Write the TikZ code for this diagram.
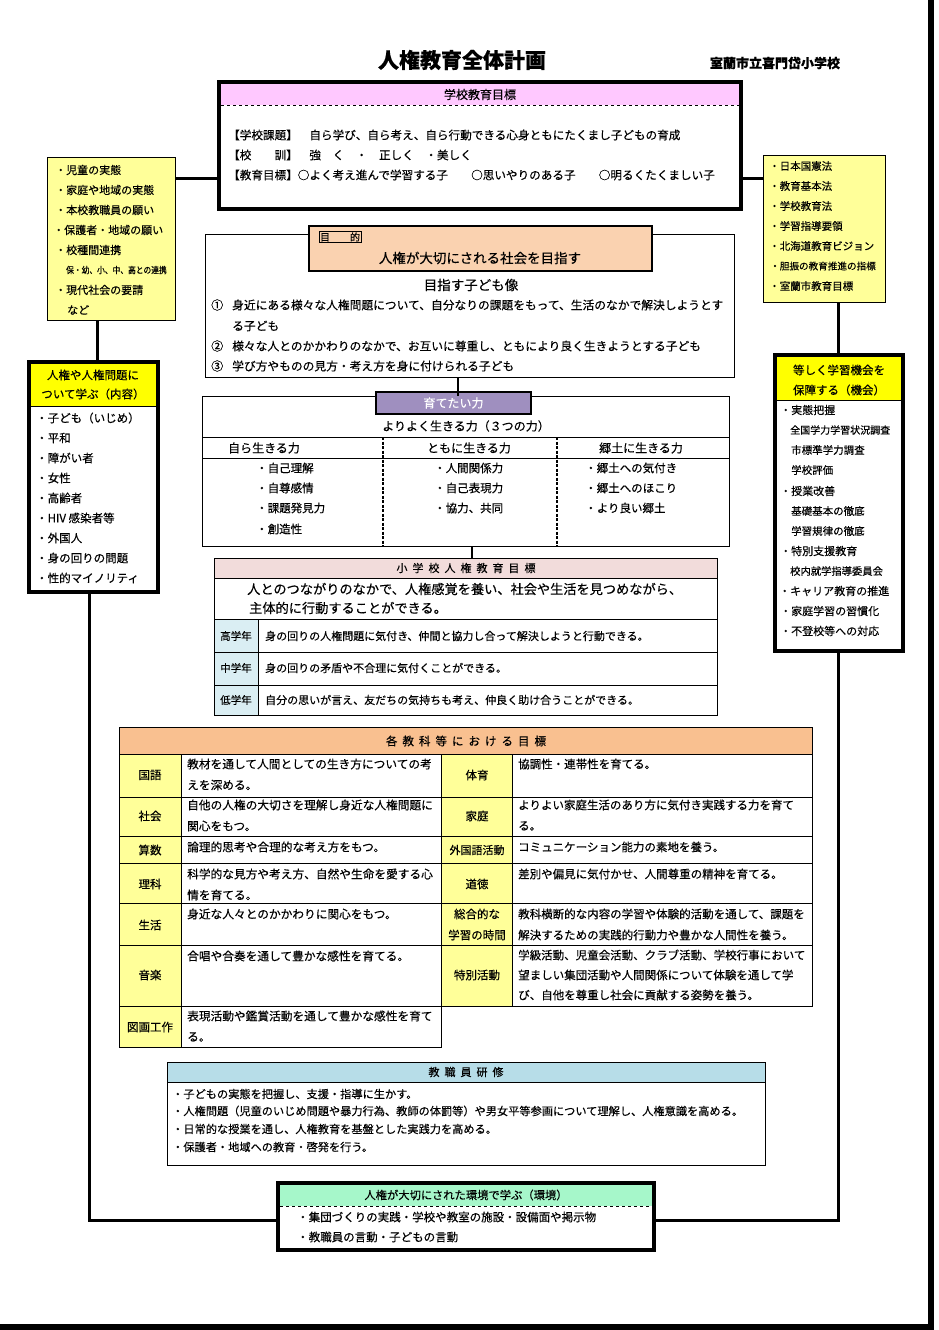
\documentclass[tikz,border=0pt]{standalone}
\usepackage{fontspec}
\setmainfont{Noto Sans CJK JP}[FakeBold=0.3]
\newcommand\fs[1]{\fontsize{#1}{#1}\selectfont}
\newcommand\gapx{\hspace{5pt}}
\definecolor{pinkH}{HTML}{FFC8FF}
\definecolor{yelL}{HTML}{FFFF99}
\definecolor{yelH}{HTML}{FFFF00}
\definecolor{orgP}{HTML}{FAD2B0}
\definecolor{purH}{HTML}{9F8FBF}
\definecolor{pinkT}{HTML}{F2DCDB}
\definecolor{bluL}{HTML}{DAEEF3}
\definecolor{orgT}{HTML}{F9C090}
\definecolor{bluS}{HTML}{B7DDE8}
\definecolor{grnE}{HTML}{A6F7CA}
\tikzset{
  frame/.style={draw, line width=1pt, inner sep=0pt, outer sep=0pt, anchor=north west},
  heavy/.style={draw, line width=4pt, inner sep=0pt, outer sep=0pt, anchor=north west},
  band/.style={inner sep=0pt, outer sep=0pt, anchor=north west},
  conn/.style={line width=3pt},
  thinconn/.style={line width=2pt},
  lt/.style={anchor=west, inner sep=0pt},
  ct/.style={anchor=center, inner sep=0pt},
  colsep/.style={line width=1.4pt, dash pattern=on 3pt off 1.5pt},
}
\begin{document}
\begin{tikzpicture}[x=1pt,y=-1pt]
\useasboundingbox (0,0) rectangle (939,1330);
\fill[white] (0,0) rectangle (939,1330);
% page edge
\fill[black] (928,0) rectangle (934,1330);
\fill[black] (0,1324) rectangle (934,1330);

% helper coordinates for connectors
\coordinate (y178) at (0,178);
\coordinate (x97) at (97,0);
\coordinate (x89) at (89,0);
\coordinate (x838) at (838,0);
\coordinate (x458) at (458,0);
\coordinate (x472) at (472,0);
\coordinate (y1220) at (0,1220);

% title
\node[ct, font=\fs{21}\bfseries] (title) at (462,60) {人権教育全体計画};
\node[ct, font=\fs{13}\bfseries] (school) at (775,63) {室蘭市立喜門岱小学校};

% school goals
\node[heavy, fill=white, minimum width=522pt, minimum height=127pt] (goal) at (219,82) {};
\node[band, fill=pinkH, minimum width=518pt, minimum height=21pt, font=\fs{12}] (goalh) at (221,84) {学校教育目標};
\draw[dashed, line width=0.8pt] (goalh.south west) -- (goalh.south east);
\node[lt, font=\fs{11.6}] (g1) at (228,135) {【学校課題】　自ら学び、自ら考え、自ら行動できる心身ともにたくまし子どもの育成};
\node[lt, font=\fs{11.6}] (g2) at (228,155) {【校　　訓】　強　く　・　正しく　・美しく};
\node[lt, font=\fs{11.6}] (g3) at (228,175) {【教育目標】○よく考え進んで学習する子　　○思いやりのある子　　○明るくたくましい子};

% left factors
\node[frame, fill=yelL, minimum width=128pt, minimum height=163pt] (lfac) at (47,157) {};
\node[lt, font=\fs{11}] (lf1) at (55,170) {・児童の実態};
\node[lt, font=\fs{11}] (lf2) at (55,190) {・家庭や地域の実態};
\node[lt, font=\fs{11}] (lf3) at (55,210) {・本校教職員の願い};
\node[lt, font=\fs{11}] (lf4) at (53,230) {・保護者・地域の願い};
\node[lt, font=\fs{11}] (lf5) at (55,250) {・校種間連携};
\node[lt, font=\fs{9}, xscale=0.86] (lf6) at (66,270) {保・幼、小、中、高との連携};
\node[lt, font=\fs{11}] (lf7) at (55,290) {・現代社会の要請};
\node[lt, font=\fs{11}] (lf8) at (67,310) {など};

% right factors
\node[frame, fill=yelL, minimum width=122pt, minimum height=147pt] (rfac) at (763,155) {};
\node[lt, font=\fs{10.5}] (rf1) at (769,166) {・日本国憲法};
\node[lt, font=\fs{10.5}] (rf2) at (769,186) {・教育基本法};
\node[lt, font=\fs{10.5}] (rf3) at (769,206) {・学校教育法};
\node[lt, font=\fs{10.5}] (rf4) at (769,226) {・学習指導要領};
\node[lt, font=\fs{10.5}] (rf5) at (769,246) {・北海道教育ビジョン};
\node[lt, font=\fs{9.6}] (rf6) at (770,266) {・胆振の教育推進の指標};
\node[lt, font=\fs{10.5}] (rf7) at (769,286) {・室蘭市教育目標};

% left content box
\node[heavy, fill=white, minimum width=129pt, minimum height=230pt] (lcont) at (29,362) {};
\node[band, fill=yelH, minimum width=125pt, minimum height=42pt] (lconth) at (31,364) {};
\draw[line width=0.8pt] (lconth.south west) -- (lconth.south east);
\node[ct, font=\fs{11.5}] (lch1) at (93,375) {人権や人権問題に};
\node[ct, font=\fs{11.5}] (lch2) at (93,394) {ついて学ぶ（内容）};
\node[lt, font=\fs{11.5}] (lc1) at (36,418) {・子ども（いじめ）};
\node[lt, font=\fs{11.5}] (lc2) at (36,438) {・平和};
\node[lt, font=\fs{11.5}] (lc3) at (36,458) {・障がい者};
\node[lt, font=\fs{11.5}] (lc4) at (36,478) {・女性};
\node[lt, font=\fs{11.5}] (lc5) at (36,498) {・高齢者};
\node[lt, font=\fs{11.5}] (lc6) at (36,518) {・HIV 感染者等};
\node[lt, font=\fs{11.5}] (lc7) at (36,538) {・外国人};
\node[lt, font=\fs{11.5}] (lc8) at (36,558) {・身の回りの問題};
\node[lt, font=\fs{11.5}] (lc9) at (36,578) {・性的マイノリティ};

% right opportunity box
\node[heavy, fill=white, minimum width=128pt, minimum height=296pt] (ropp) at (775,355) {};
\node[band, fill=yelH, minimum width=124pt, minimum height=43pt] (ropph) at (777,357) {};
\draw[line width=0.8pt] (ropph.south west) -- (ropph.south east);
\node[ct, font=\fs{11.5}] (roh1) at (839,370) {等しく学習機会を};
\node[ct, font=\fs{11.5}] (roh2) at (839,390) {保障する（機会）};
\node[lt, font=\fs{11}] (ro1) at (780,410) {・実態把握};
\node[lt, font=\fs{10}] (ro2) at (790,430) {全国学力学習状況調査};
\node[lt, font=\fs{10.5}] (ro3) at (791,450) {市標準学力調査};
\node[lt, font=\fs{10.5}] (ro4) at (791,470) {学校評価};
\node[lt, font=\fs{11}] (ro5) at (780,491) {・授業改善};
\node[lt, font=\fs{10.5}] (ro6) at (791,511) {基礎基本の徹底};
\node[lt, font=\fs{10.5}] (ro7) at (791,531) {学習規律の徹底};
\node[lt, font=\fs{11}] (ro8) at (780,551) {・特別支援教育};
\node[lt, font=\fs{10.3}] (ro9) at (790,571) {校内就学指導委員会};
\node[lt, font=\fs{11}] (ro10) at (779,591) {・キャリア教育の推進};
\node[lt, font=\fs{11}] (ro11) at (780,611) {・家庭学習の習慣化};
\node[lt, font=\fs{11}] (ro12) at (780,631) {・不登校等への対応};

% purpose box
\node[frame, minimum width=529pt, minimum height=143pt] (pbox) at (205,234) {};
\node[frame, line width=1.2pt, fill=orgP, minimum width=343pt, minimum height=45pt] (ph) at (309,226) {};
\node[draw, line width=0.8pt, ct, inner sep=1pt, font=\fs{10}] (plabel) at (340,237) {目\hspace{20pt}的};
\node[ct, font=\fs{13.5}] (ptext) at (480,258) {人権が大切にされる社会を目指す};
\node[ct, font=\fs{13.5}] (pimg) at (471,285) {目指す子ども像};
\node[lt, font=\fs{12}] (pn1) at (211,305) {①};
\node[lt, font=\fs{11.75}] (pi1) at (232,305) {身近にある様々な人権問題について、自分なりの課題をもって、生活のなかで解決しようとす};
\node[lt, font=\fs{11.75}] (pi1b) at (232,326) {る子ども};
\node[lt, font=\fs{12}] (pn2) at (211,346) {②};
\node[lt, font=\fs{11.75}] (pi2) at (232,346) {様々な人とのかかわりのなかで、お互いに尊重し、ともにより良く生きようとする子ども};
\node[lt, font=\fs{12}] (pn3) at (211,366) {③};
\node[lt, font=\fs{11.75}] (pi3) at (232,366) {学び方やものの見方・考え方を身に付けられる子ども};

% ability box
\node[frame, minimum width=527pt, minimum height=150pt] (fbox) at (202,396) {};
\node[frame, line width=1.2pt, fill=purH, minimum width=155pt, minimum height=22pt] (fh) at (376,392) {};
\node[ct, font=\fs{12}, text=white] (fht) at (fh.center) {育てたい力};
\node[ct, font=\fs{12}] (fsub) at (466,426) {よりよく生きる力（３つの力）};
\draw[line width=1pt] (202,437) -- (729,437);
\draw[line width=1pt] (202,458) -- (729,458);
\draw[colsep] (383,437) -- (383,546);
\draw[colsep] (557,437) -- (557,546);
\node[ct, font=\fs{12}] (fc1) at (264,448) {自ら生きる力};
\node[ct, font=\fs{12}] (fc2) at (469,448) {ともに生きる力};
\node[ct, font=\fs{12}] (fc3) at (641,448) {郷土に生きる力};
\node[lt, font=\fs{11.5}] (f11) at (256,468) {・自己理解};
\node[lt, font=\fs{11.5}] (f12) at (256,488) {・自尊感情};
\node[lt, font=\fs{11.5}] (f13) at (256,508) {・課題発見力};
\node[lt, font=\fs{11.5}] (f14) at (256,529) {・創造性};
\node[lt, font=\fs{11.5}] (f21) at (434,468) {・人間関係力};
\node[lt, font=\fs{11.5}] (f22) at (434,488) {・自己表現力};
\node[lt, font=\fs{11.5}] (f23) at (434,508) {・協力、共同};
\node[lt, font=\fs{11.5}] (f31) at (585,468) {・郷土への気付き};
\node[lt, font=\fs{11.5}] (f32) at (585,488) {・郷土へのほこり};
\node[lt, font=\fs{11.5}] (f33) at (585,508) {・より良い郷土};

% school human-rights goal
\node[frame, minimum width=503pt, minimum height=157pt] (sg) at (214,558) {};
\fill[pinkT] (214.5,558.5) rectangle (716.5,578);
\fill[bluL] (214.5,619) rectangle (258,714.5);
\draw[line width=1pt] (214,578) -- (717,578);
\draw[line width=1pt] (214,619) -- (717,619);
\draw[line width=1pt] (214,652) -- (717,652);
\draw[line width=1pt] (214,685) -- (717,685);
\draw[line width=1pt] (258,619) -- (258,715);
\draw[line width=1pt] (214,558) rectangle (717,715);
\node[ct, font=\fs{11}] (sgh) at (466,568) {小\gapx 学\gapx 校\gapx 人\gapx 権\gapx 教\gapx 育\gapx 目\gapx 標};
\node[lt, font=\fs{13.2}] (sgt1) at (247,589) {人とのつながりのなかで、人権感覚を養い、社会や生活を見つめながら、};
\node[lt, font=\fs{13.2}] (sgt2) at (249,608) {主体的に行動することができる。};
\node[ct, font=\fs{10.5}] (sgl1) at (236,636) {高学年};
\node[ct, font=\fs{10.5}] (sgl2) at (236,668) {中学年};
\node[ct, font=\fs{10.5}] (sgl3) at (236,700) {低学年};
\node[lt, font=\fs{11}] (sgr1) at (265,636) {身の回りの人権問題に気付き、仲間と協力し合って解決しようと行動できる。};
\node[lt, font=\fs{11}] (sgr2) at (265,668) {身の回りの矛盾や不合理に気付くことができる。};
\node[lt, font=\fs{11}] (sgr3) at (265,700) {自分の思いが言え、友だちの気持ちも考え、仲良く助け合うことができる。};

% subject table
\fill[orgT] (119,727) rectangle (812,754);
\fill[yelL] (119,754) rectangle (181,1047);
\fill[yelL] (441,754) rectangle (512,1006);
\draw[line width=1pt] (119,727) rectangle (812,754);
\draw[line width=1pt] (119,754) rectangle (441,1047);
\draw[line width=1pt] (441,754) rectangle (812,1006);
\draw[line width=1pt] (181,754) -- (181,1047);
\draw[line width=1pt] (512,754) -- (512,1006);
\foreach \yy in {797,836,863,903,945,1006} {
  \draw[line width=1pt] (119,\yy) -- (812,\yy);
}
\node[ct, font=\fs{11.5}] (sth) at (466,741) {各\gapx 教\gapx 科\gapx 等\gapx に\gapx お\gapx け\gapx る\gapx 目\gapx 標};
\node[ct, font=\fs{11.5}] (sl1) at (150,775) {国語};
\node[ct, font=\fs{11.5}] (sl2) at (150,816) {社会};
\node[ct, font=\fs{11.5}] (sl3) at (150,850) {算数};
\node[ct, font=\fs{11.5}] (sl4) at (150,884) {理科};
\node[ct, font=\fs{11.5}] (sl5) at (150,925) {生活};
\node[ct, font=\fs{11.5}] (sl6) at (150,975) {音楽};
\node[ct, font=\fs{11.5}] (sl7) at (150,1027) {図画工作};
\node[lt, font=\fs{11.7}] (st1a) at (187,764) {教材を通して人間としての生き方についての考};
\node[lt, font=\fs{11.7}] (st1b) at (187,785) {えを深める。};
\node[lt, font=\fs{11.7}] (st2a) at (187,805) {自他の人権の大切さを理解し身近な人権問題に};
\node[lt, font=\fs{11.7}] (st2b) at (187,826) {関心をもつ。};
\node[lt, font=\fs{11.7}] (st3a) at (187,847) {論理的思考や合理的な考え方をもつ。};
\node[lt, font=\fs{11.7}] (st4a) at (187,874) {科学的な見方や考え方、自然や生命を愛する心};
\node[lt, font=\fs{11.7}] (st4b) at (187,895) {情を育てる。};
\node[lt, font=\fs{11.7}] (st5a) at (187,914) {身近な人々とのかかわりに関心をもつ。};
\node[lt, font=\fs{11.7}] (st6a) at (187,956) {合唱や合奏を通して豊かな感性を育てる。};
\node[lt, font=\fs{11.7}] (st7a) at (187,1016) {表現活動や鑑賞活動を通して豊かな感性を育て};
\node[lt, font=\fs{11.7}] (st7b) at (187,1037) {る。};
\node[ct, font=\fs{11.5}] (sr1) at (477,775) {体育};
\node[ct, font=\fs{11.5}] (sr2) at (477,816) {家庭};
\node[ct, font=\fs{11}] (sr3) at (477,850) {外国語活動};
\node[ct, font=\fs{11.5}] (sr4) at (477,884) {道徳};
\node[ct, font=\fs{11.5}] (sr5a) at (477,914) {総合的な};
\node[ct, font=\fs{11.5}] (sr5b) at (477,935) {学習の時間};
\node[ct, font=\fs{11.5}] (sr6) at (477,975) {特別活動};
\node[lt, font=\fs{11.5}] (su1a) at (518,764) {協調性・連帯性を育てる。};
\node[lt, font=\fs{11.5}] (su2a) at (518,805) {よりよい家庭生活のあり方に気付き実践する力を育て};
\node[lt, font=\fs{11.5}] (su2b) at (518,826) {る。};
\node[lt, font=\fs{11.5}] (su3a) at (518,847) {コミュニケーション能力の素地を養う。};
\node[lt, font=\fs{11.5}] (su4a) at (518,874) {差別や偏見に気付かせ、人間尊重の精神を育てる。};
\node[lt, font=\fs{11.5}] (su5a) at (518,914) {教科横断的な内容の学習や体験的活動を通して、課題を};
\node[lt, font=\fs{11.5}] (su5b) at (518,935) {解決するための実践的行動力や豊かな人間性を養う。};
\node[lt, font=\fs{11.5}] (su6a) at (518,955) {学級活動、児童会活動、クラブ活動、学校行事において};
\node[lt, font=\fs{11.5}] (su6b) at (518,975) {望ましい集団活動や人間関係について体験を通して学};
\node[lt, font=\fs{11.5}] (su6c) at (518,995) {び、自他を尊重し社会に貢献する姿勢を養う。};

% staff training
\node[frame, minimum width=598pt, minimum height=103pt] (sbox) at (167,1062) {};
\node[band, fill=bluS, minimum width=597pt, minimum height=20pt] (sboxh) at (167.5,1062.5) {};
\draw[line width=1pt] (sboxh.south west) -- (sboxh.south east);
\node[ct, font=\fs{11}] (sbt) at (466,1072) {教\gapx 職\gapx 員\gapx 研\gapx 修};
\node[lt, font=\fs{11.2}] (sb1) at (172,1094) {・子どもの実態を把握し、支援・指導に生かす。};
\node[lt, font=\fs{11.2}] (sb2) at (172,1111) {・人権問題（児童のいじめ問題や暴力行為、教師の体罰等）や男女平等参画について理解し、人権意識を高める。};
\node[lt, font=\fs{11.2}] (sb3) at (172,1129) {・日常的な授業を通し、人権教育を基盤とした実践力を高める。};
\node[lt, font=\fs{11.2}] (sb4) at (172,1147) {・保護者・地域への教育・啓発を行う。};

% environment box
\node[heavy, fill=white, minimum width=376pt, minimum height=67pt] (ebox) at (278,1183) {};
\node[band, fill=grnE, minimum width=372pt, minimum height=21pt] (eboxh) at (280,1185) {};
\draw[dashed, line width=0.8pt] (eboxh.south west) -- (eboxh.south east);
\node[ct, font=\fs{11.3}] (ebt) at (466,1195) {人権が大切にされた環境で学ぶ（環境）};
\node[lt, font=\fs{11.5}] (eb1) at (297,1217) {・集団づくりの実践・学校や教室の施設・設備面や掲示物};
\node[lt, font=\fs{11.5}] (eb2) at (297,1237) {・教職員の言動・子どもの言動};

% connectors
\draw[conn] (lfac.east |- y178) -- (goal.west |- y178);
\draw[conn] (goal.east |- y178) -- (rfac.west |- y178);
\draw[conn] (lfac.south -| x97) -- (lcont.north -| x97);
\draw[conn] (rfac.south -| x838) -- (ropp.north -| x838);
\draw[thinconn] (pbox.south -| x458) -- (fbox.north -| x458);
\draw[thinconn] (fbox.south -| x472) -- (sg.north -| x472);
\draw[conn] (lcont.south -| x89) -- (x89 |- y1220) -- (ebox.west |- y1220);
\draw[conn] (ropp.south -| x838) -- (x838 |- y1220) -- (ebox.east |- y1220);
\end{tikzpicture}
\end{document}
